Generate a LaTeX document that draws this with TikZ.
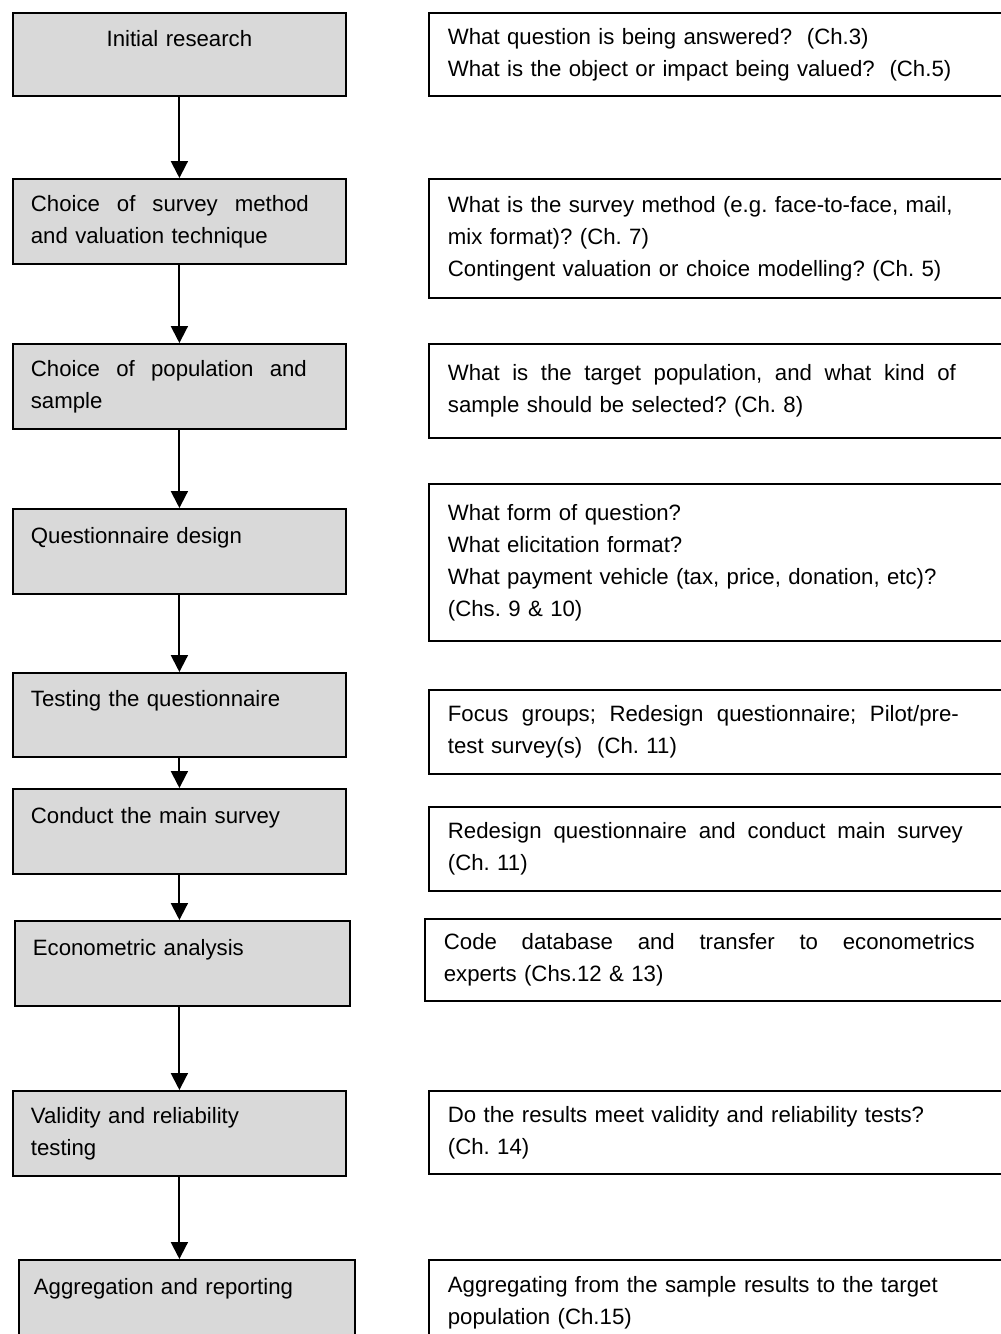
\documentclass[tikz,border=0pt]{standalone}
\usepackage{fontspec}
\setmainfont{Liberation Sans}
\usetikzlibrary{arrows.meta}

\definecolor{stagegray}{HTML}{D9D9D9}
% a line whose word spaces are stretched out to the given width
\newcommand{\spreadline}[2]{\hbox to #1{\spaceskip=0.278em plus 1fil\relax #2}}

\tikzset{
    stage/.style={draw, line width=0.9pt, fill=stagegray, anchor=north west,
        minimum width=166.5pt, minimum height=42.5pt, text width=148.5pt,
        inner xsep=9pt, inner ysep=0pt, align=left,
        font=\fontsize{11.1}{16}\selectfont\frenchspacing},
    question/.style={draw, line width=0.9pt, anchor=north west,
        minimum width=300pt, text width=281pt,
        inner xsep=9.5pt, inner ysep=0pt, align=left,
        font=\fontsize{11.1}{16}\selectfont\frenchspacing},
    flow/.style={-{Triangle[length=8.5pt,width=8.5pt]}, line width=1pt}
}

\begin{document}
\begin{tikzpicture}[x=0.5pt,y=-0.5pt]
    \useasboundingbox (0,0) rectangle (1001,1334);
    \clip (0,0) rectangle (1001,1334);

    % stages
    \node[stage, minimum height=41.5pt, align=center] (IR) at (12,12) {Initial research\\~};
    \node[stage] (CSM) at (12,178) {\spreadline{139pt}{Choice of survey method}\\and valuation technique};
    \node[stage] (CPS) at (12,343) {\spreadline{138pt}{Choice of population and}\\sample};
    \node[stage] (QD) at (12,508) {Questionnaire design\\~};
    \node[stage, minimum height=42pt] (TQ) at (12,672) {Testing the questionnaire\\~};
    \node[stage] (CMS) at (12,788) {Conduct the main survey\\~};
    \node[stage, minimum width=167.5pt, text width=149.5pt] (EA) at (14,920) {Econometric analysis\\~};
    \node[stage] (VRT) at (12,1090) {Validity and reliability\\testing};
    \node[stage, minimum width=168pt, text width=153pt, inner xsep=7.5pt] (AR) at (18,1259) {Aggregation and reporting\\~};

    % questions
    \node[question, minimum height=41.5pt] (IRq) at (428,12) {What question is being answered?~ (Ch.3)\\What is the object or impact being valued?~ (Ch.5)};
    \node[question, minimum height=59.5pt] (CSMq) at (428,178) {What is the survey method (e.g. face-to-face, mail,\\mix format)? (Ch. 7)\\Contingent valuation or choice modelling? (Ch. 5)};
    \node[question, minimum height=47pt] (CPSq) at (428,343) {\spreadline{254pt}{What is the target population, and what kind of}\\sample should be selected? (Ch. 8)};
    \node[question, minimum height=78.5pt] (QDq) at (428,483) {What form of question?\\What elicitation format?\\What payment vehicle (tax, price, donation, etc)?\\(Chs. 9 \& 10)};
    \node[question, minimum height=42pt] (TQq) at (428,689) {\spreadline{255.5pt}{Focus groups; Redesign questionnaire; Pilot/pre-}\\test survey(s)~ (Ch. 11)};
    \node[question, minimum height=42pt] (CMSq) at (428,806) {\spreadline{257.5pt}{Redesign questionnaire and conduct main survey}\\(Ch. 11)};
    \node[question, minimum height=41pt] (EAq) at (424,918) {\spreadline{265.5pt}{Code database and transfer to econometrics}\\experts (Chs.12 \& 13)};
    \node[question, minimum height=41.5pt] (VRTq) at (428,1090) {Do the results meet validity and reliability tests?\\(Ch. 14)};
    \node[question, minimum height=42.5pt] (ARq) at (428,1259) {Aggregating from the sample results to the target\\population (Ch.15)};

    % flow between stages
    \draw[flow] (IR.south) -- (IR.south |- CSM.north);
    \draw[flow] (CSM.south) -- (CSM.south |- CPS.north);
    \draw[flow] (CPS.south) -- (CPS.south |- QD.north);
    \draw[flow] (QD.south) -- (QD.south |- TQ.north);
    \draw[flow] (TQ.south) -- (TQ.south |- CMS.north);
    \draw[flow] (CMS.south) -- (CMS.south |- EA.north);
    \draw[flow] (EA.south -| VRT.north) -- (VRT.north);
    \draw[flow] (VRT.south) -- (VRT.south |- AR.north);
\end{tikzpicture}
\end{document}
